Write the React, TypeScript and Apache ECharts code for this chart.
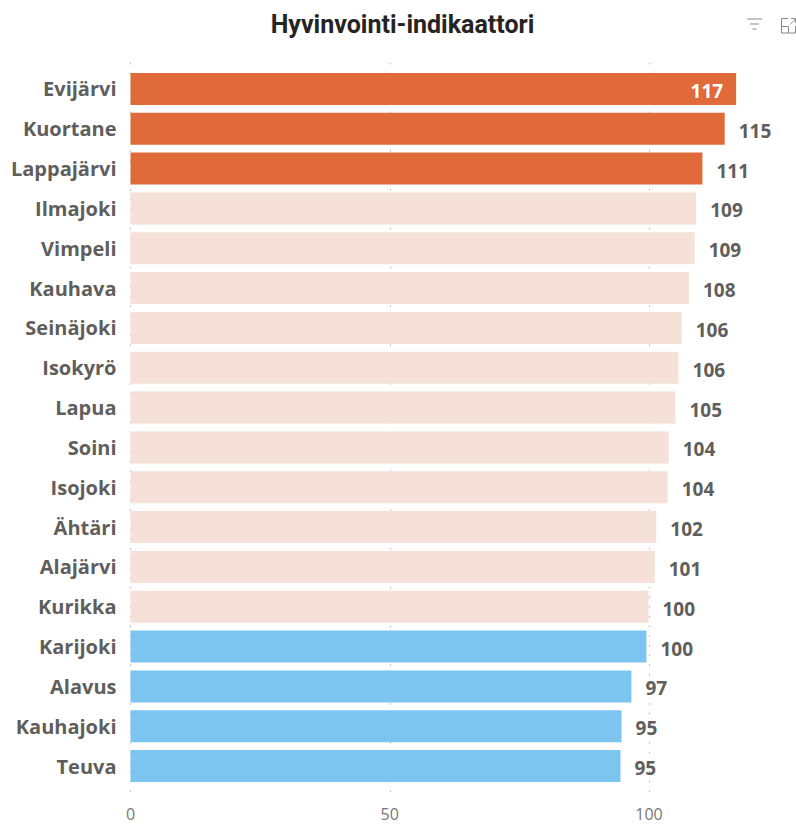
import React, { useEffect, useRef } from "react";
import * as echarts from "echarts";

const categories = ["Evijärvi","Kuortane","Lappajärvi","Ilmajoki","Vimpeli","Kauhava","Seinäjoki","Isokyrö","Lapua","Soini","Isojoki","Ähtäri","Alajärvi","Kurikka","Karijoki","Alavus","Kauhajoki","Teuva"];
const values = [116.8,114.6,110.3,109.1,108.8,107.7,106.3,105.7,105.1,103.8,103.6,101.4,101.1,99.9,99.5,96.6,94.7,94.5];
const labels = ["117","115","111","109","109","108","106","106","105","104","104","102","101","100","100","97","95","95"];
const barColors = ["#E06A3A","#E06A3A","#E06A3A","#F6E1D8","#F6E1D8","#F6E1D8","#F6E1D8","#F6E1D8","#F6E1D8","#F6E1D8","#F6E1D8","#F6E1D8","#F6E1D8","#F6E1D8","#7DC5F1","#7DC5F1","#7DC5F1","#7DC5F1"];
const axisTicks = [0, 50, 100];

const xMax = 128.35;
const font = "'Open Sans', sans-serif";

export default function App() {
  const ref = useRef<HTMLDivElement>(null);
  useEffect(() => {
    const chart = echarts.init(ref.current!, undefined, { renderer: "svg" });
    const gridLeft = 130.5;
    const gridWidth = 665.5;
    const iconStroke = { stroke: "#8a8886", lineWidth: 1, fill: "none" };
    chart.setOption({
      animation: false,
      backgroundColor: "#fff",
      title: {
        text: "Hyvinvointi-indikaattori",
        left: 397.5,
        top: 7,
        textAlign: "center",
        textStyle: { fontFamily: "Roboto, sans-serif", fontWeight: "bold", fontSize: 25, color: "#252423" },
      },
      grid: [
        { left: gridLeft, width: gridWidth, top: 63, height: 734, outerBoundsMode: "none" },
        { left: gridLeft, width: gridWidth, top: 69, height: 717, outerBoundsMode: "none" },
      ],
      xAxis: [
        {
          gridIndex: 0, type: "value", min: 0, max: xMax, interval: 50, position: "bottom",
          axisLine: { show: false }, axisTick: { show: false },
          axisLabel: {
            margin: 9, fontFamily: font, fontSize: 16, color: "#777777",
            showMaxLabel: false,
            formatter: (v: number) => (axisTicks.includes(v) ? String(v) : ""),
          },
          splitLine: {
            show: true,
            showMaxLine: false,
            lineStyle: { type: [1.5, 8.2], color: "#B5B3B1", width: 1 },
          },
        },
        { gridIndex: 1, type: "value", min: 0, max: xMax, show: false, splitLine: { show: false } },
      ],
      yAxis: [
        { gridIndex: 0, type: "value", show: false, min: 0, max: 1, splitLine: { show: false } },
        {
          gridIndex: 1, type: "category", inverse: true, data: categories,
          axisLine: { show: false }, axisTick: { show: false },
          axisLabel: { margin: 14, fontFamily: font, fontWeight: "bold", fontSize: 20, color: "#605E5C" },
        },
      ],
      series: [
        {
          type: "bar",
          xAxisIndex: 1,
          yAxisIndex: 1,
          barWidth: 32,
          data: values.map((v, i) => ({
            value: v,
            itemStyle: { color: barColors[i] },
            label: i === 0
              ? { position: "insideRight", distance: 13, color: "#FFFFFF" }
              : { position: "right", distance: 14, color: "#605E5C" },
          })),
          label: {
            show: true,
            offset: [0, 2],
            fontFamily: font,
            fontWeight: "bold",
            fontSize: 19,
            formatter: (p: any) => labels[p.dataIndex],
          },
        },
      ],
      graphic: [
        { type: "line", shape: { x1: 747, y1: 19, x2: 762, y2: 19 }, style: iconStroke },
        { type: "line", shape: { x1: 750, y1: 24, x2: 759, y2: 24 }, style: iconStroke },
        { type: "line", shape: { x1: 752.5, y1: 29, x2: 756.5, y2: 29 }, style: iconStroke },
        { type: "polyline", shape: { points: [[788, 18.5],[781.5,18.5],[781.5,33],[795.5,33],[795.5,26]] }, style: iconStroke },
        { type: "polyline", shape: { points: [[781.5,26.5],[788.5,26.5],[788.5,33]] }, style: iconStroke },
        { type: "line", shape: { x1: 790, y1: 24.5, x2: 795.5, y2: 19 }, style: iconStroke },
        { type: "polyline", shape: { points: [[791,18.5],[795.5,18.5],[795.5,23]] }, style: iconStroke },
      ],
    });
    return () => chart.dispose();
  }, []);
  return <div ref={ref} style={{ position: "absolute", left: 0, top: 0, width: 796, height: 824 }} />;
}
